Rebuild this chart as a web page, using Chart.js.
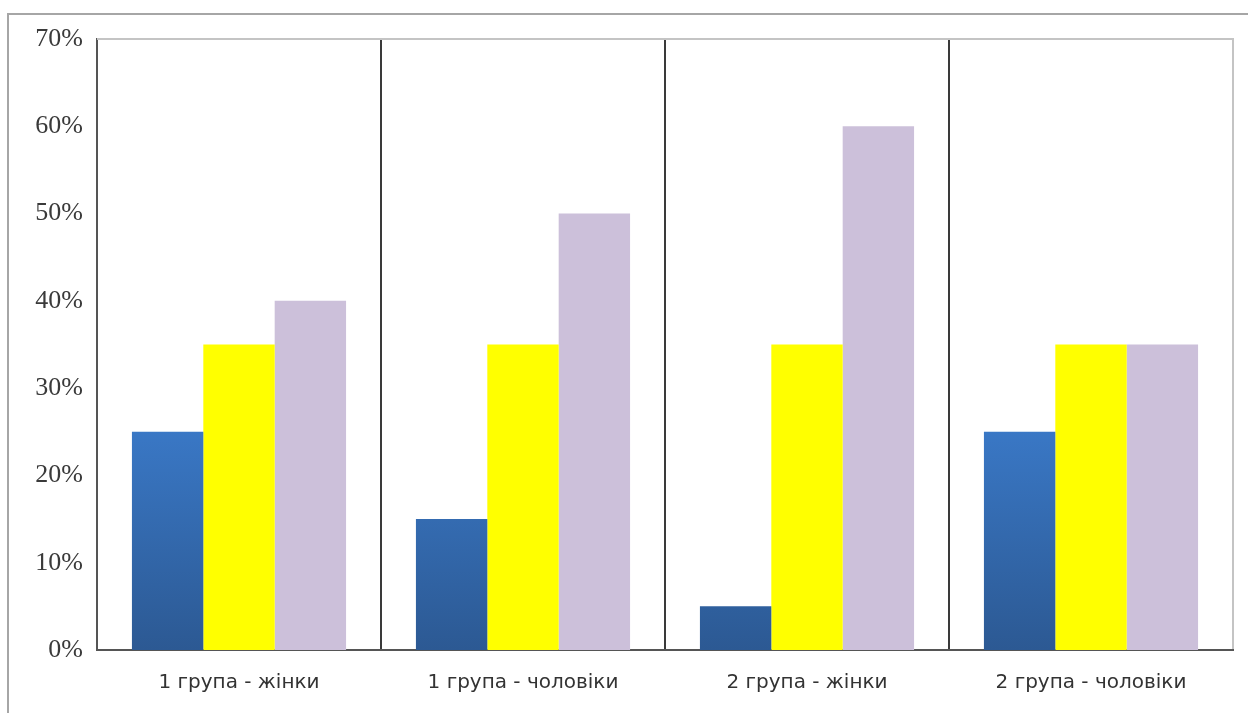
<!DOCTYPE html>
<html>
<head>
<meta charset="utf-8">
<script src="https://cdn.jsdelivr.net/npm/chart.js@4.4.1/dist/chart.umd.min.js"></script>
<style>
  html, body { margin: 0; padding: 0; background: #fff; }
  #wrap { position: relative; width: 1248px; height: 713px; overflow: hidden; }
  #frame { position: absolute; left: 7px; top: 13px; width: 1260px; height: 720px;
           border-left: 2px solid #a6a6a6; border-top: 2px solid #a6a6a6; box-sizing: border-box; }
  canvas { position: absolute; left: 0; top: 0; }
</style>
</head>
<body>
<div id="wrap">
  <div id="frame"></div>
  <canvas id="chart" width="1248" height="713"></canvas>
</div>
<script>
const categories = ['1 група - жінки', '1 група - чоловіки', '2 група - жінки', '2 група - чоловіки'];
const seriesBlue = [25, 15, 5, 25];
const seriesYellow = [35, 35, 35, 35];
const seriesLilac = [40, 50, 60, 35];
const yTicks = [0, 10, 20, 30, 40, 50, 60, 70];

// Vertical blue gradient: lighter at the top of the plot, darker at the base
function blueFill(context) {
  const chart = context.chart;
  const area = chart.chartArea;
  if (!area) return '#3a74bf';
  const g = chart.ctx.createLinearGradient(0, area.top, 0, area.bottom);
  g.addColorStop(0, '#4a8de0');
  g.addColorStop(0.6, '#3b7bcb');
  g.addColorStop(1, '#2c5993');
  return g;
}

// Light frame along the top and right edges of the plot area
const lightFrame = {
  id: 'lightFrame',
  afterDraw(chart) {
    const { ctx, chartArea } = chart;
    ctx.save();
    ctx.strokeStyle = '#c4c4c4';
    ctx.lineWidth = 2;
    ctx.beginPath();
    ctx.moveTo(chartArea.left, chartArea.top);
    ctx.lineTo(chartArea.right, chartArea.top);
    ctx.lineTo(chartArea.right, chartArea.bottom - 1);
    ctx.stroke();
    ctx.restore();
  }
};

new Chart(document.getElementById('chart'), {
  type: 'bar',
  data: {
    labels: categories,
    datasets: [
      { data: seriesBlue, backgroundColor: blueFill },
      { data: seriesYellow, backgroundColor: '#ffff00' },
      { data: seriesLilac, backgroundColor: '#ccc0da' }
    ]
  },
  options: {
    responsive: false,
    animation: false,
    layout: { padding: { top: 39, right: 15, left: 0, bottom: 0 } },
    plugins: { legend: { display: false }, tooltip: { enabled: false } },
    datasets: { bar: { categoryPercentage: 0.754, barPercentage: 1.0 } },
    scales: {
      x: {
        offset: true,
        grid: {
          offset: true,
          drawTicks: false,
          lineWidth: 2,
          color: '#3a3a3a'
        },
        border: { display: true, color: '#555', width: 2 },
        ticks: {
          padding: 21,
          color: '#333',
          font: { family: '"DejaVu Sans"', size: 20 }
        },
        afterFit: (s) => { s.height = 63; }
      },
      y: {
        min: 0,
        max: 70,
        afterBuildTicks: (s) => { s.ticks = yTicks.map(v => ({ value: v })); },
        grid: { display: false, drawTicks: false },
        border: { display: true, color: '#555', width: 2 },
        ticks: {
          padding: 14,
          color: '#3a3a3a',
          font: { family: '"Liberation Serif"', size: 26 },
          callback: (v) => v + '%'
        },
        afterFit: (s) => { s.width = 97; }
      }
    }
  },
  plugins: [lightFrame]
});
</script>
</body>
</html>
